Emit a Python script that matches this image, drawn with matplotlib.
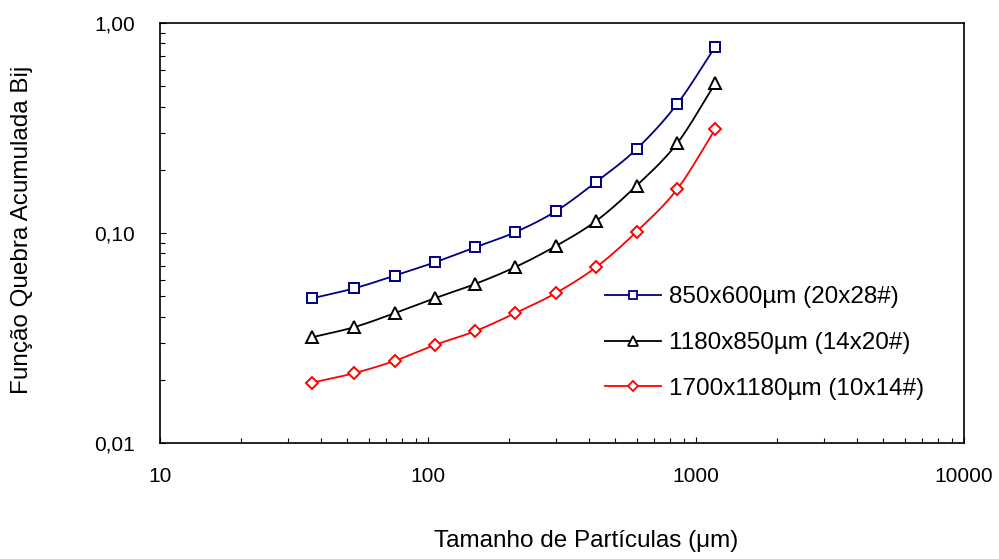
import numpy as np
import matplotlib
matplotlib.use('Agg')
import matplotlib.pyplot as plt
from matplotlib.ticker import FixedLocator, FixedFormatter, LogLocator, NullFormatter

plt.rcParams['font.family'] = ['Liberation Sans', 'DejaVu Sans']

# tamanho de partícula (µm)
tamanho = [37, 53, 75, 106, 150, 212, 300, 425, 600, 850, 1180]

# função quebra acumulada Bij por faixa de alimentação
bij_20x28 = [0.0489, 0.0545, 0.0626, 0.0725, 0.0855, 0.101, 0.127, 0.1755, 0.251, 0.411, 0.771]
bij_14x20 = [0.0319, 0.0356, 0.0415, 0.0489, 0.0572, 0.0689, 0.0867, 0.1144, 0.168, 0.267, 0.516]
bij_10x14 = [0.0194, 0.0215, 0.0246, 0.0293, 0.0341, 0.0416, 0.0518, 0.0689, 0.1014, 0.1615, 0.312]

rotulos = ['850x600µm (20x28#)', '1180x850µm (14x20#)', '1700x1180µm (10x14#)']

xticks = [10, 100, 1000, 10000]
xtick_labels = ['10', '100', '1000', '10000']
yticks = [0.01, 0.1, 1.0]
ytick_labels = ['0,01', '0,10', '1,00']


def suavizar(x, y, n=20):
    # curva suave tipo Excel (Catmull-Rom) no espaço log-log
    lx, ly = np.log10(x), np.log10(y)
    px = np.concatenate([[2 * lx[0] - lx[1]], lx, [2 * lx[-1] - lx[-2]]])
    py = np.concatenate([[2 * ly[0] - ly[1]], ly, [2 * ly[-1] - ly[-2]]])
    t = np.linspace(0, 1, n, endpoint=False)
    cx, cy = [], []
    for i in range(1, len(px) - 2):
        for P, out in ((px, cx), (py, cy)):
            p0, p1, p2, p3 = P[i - 1], P[i], P[i + 1], P[i + 2]
            out.extend(0.5 * ((2 * p1) + (-p0 + p2) * t
                              + (2 * p0 - 5 * p1 + 4 * p2 - p3) * t ** 2
                              + (-p0 + 3 * p1 - 3 * p2 + p3) * t ** 3))
    cx.append(lx[-1])
    cy.append(ly[-1])
    return 10 ** np.array(cx), 10 ** np.array(cy)


fig = plt.figure(figsize=(9.99, 5.59), dpi=100)
ax = fig.add_axes([160 / 999, 116 / 559, 804 / 999, 420 / 559])

series = [
    (bij_20x28, '#000080', 's', 6.6),
    (bij_14x20, 'black', '^', 8.2),
    (bij_10x14, '#FF0000', 'D', 6.2),
]
for (vals, cor, mk, ms), rot in zip(series, rotulos):
    sx, sy = suavizar(tamanho, vals)
    ax.plot(sx, sy, color=cor, linewidth=1.3)
    ax.plot(tamanho, vals, linestyle='none', marker=mk, markersize=ms,
            markerfacecolor='white', markeredgecolor=cor, markeredgewidth=1.4)
    ax.plot([], [], color=cor, linewidth=1.3, marker=mk, markersize=ms * 0.9,
            markerfacecolor='white', markeredgecolor=cor, markeredgewidth=1.3, label=rot)

ax.set_xscale('log')
ax.set_yscale('log')
ax.set_xlim(10, 10000)
ax.set_ylim(0.01, 1.0)

ax.xaxis.set_major_locator(FixedLocator(xticks))
ax.xaxis.set_major_formatter(FixedFormatter(xtick_labels))
ax.yaxis.set_major_locator(FixedLocator(yticks))
ax.yaxis.set_major_formatter(FixedFormatter(ytick_labels))
ax.xaxis.set_minor_locator(LogLocator(base=10, subs=np.arange(2, 10)))
ax.yaxis.set_minor_locator(LogLocator(base=10, subs=np.arange(2, 10)))
ax.xaxis.set_minor_formatter(NullFormatter())
ax.yaxis.set_minor_formatter(NullFormatter())

ax.tick_params(axis='both', which='major', direction='in', length=4, width=0.8,
               labelsize=15, top=False, right=False)
ax.tick_params(axis='both', which='minor', direction='in', length=3.5, width=0.8,
               top=False, right=False)
ax.tick_params(axis='x', which='major', pad=17)
ax.tick_params(axis='y', which='major', pad=18)
for sp in ax.spines.values():
    sp.set_linewidth(1.2)

fig.text(586 / 999, 1 - 547 / 559, 'Tamanho de Partículas (μm)', fontsize=17.5,
         ha='center', va='baseline')
fig.text(22 / 999, 1 - 230 / 559, 'Função Quebra Acumulada Bij', fontsize=17.5,
         ha='center', va='center', rotation=90)

ax.legend(loc='center left', bbox_to_anchor=(605 / 999, 1 - 343 / 559),
          bbox_transform=fig.transFigure, frameon=False, fontsize=17.5,
          borderaxespad=0, borderpad=0, handlelength=2.3, handletextpad=0.35,
          labelspacing=0.97)

fig.savefig('out.png', dpi=100)
